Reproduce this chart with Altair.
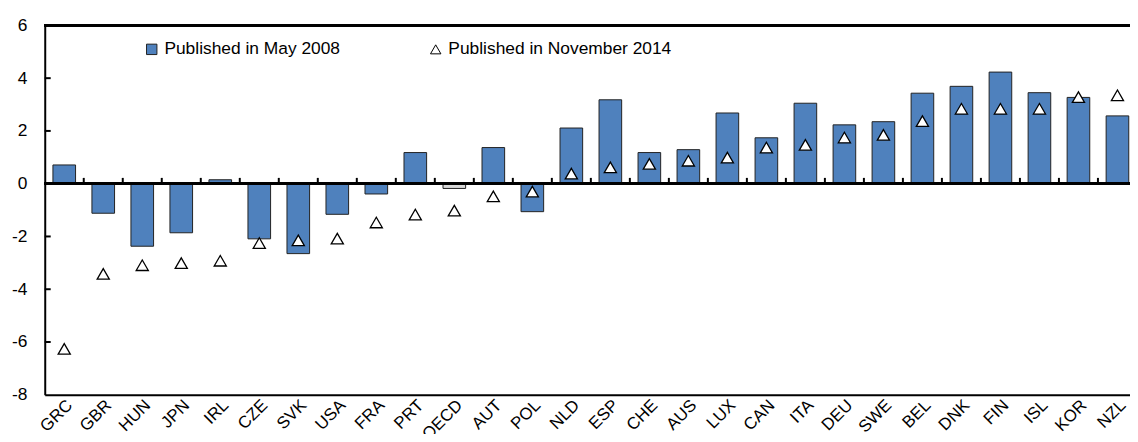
import altair as alt
import pandas as pd

countries = ["GRC", "GBR", "HUN", "JPN", "IRL", "CZE", "SVK", "USA", "FRA", "PRT",
             "OECD", "AUT", "POL", "NLD", "ESP", "CHE", "AUS", "LUX", "CAN", "ITA",
             "DEU", "SWE", "BEL", "DNK", "FIN", "ISL", "KOR", "NZL"]
may2008 = [0.71, -1.12, -2.37, -1.86, 0.15, -2.09, -2.65, -1.16, -0.39, 1.18,
           -0.18, 1.37, -1.06, 2.11, 3.18, 1.18, 1.29, 2.68, 1.74, 3.05,
           2.23, 2.35, 3.43, 3.69, 4.23, 3.45, 3.27, 2.57]
nov2014 = [-6.26, -3.42, -3.09, -3.01, -2.92, -2.25, -2.15, -2.08, -1.47, -1.17,
           -1.02, -0.48, -0.30, 0.38, 0.62, 0.75, 0.87, 0.99, 1.37, 1.47,
           1.75, 1.85, 2.37, 2.84, 2.84, 2.84, 3.28, 3.35]
series_names = ["Published in May 2008", "Published in November 2014"]
y_ticks = [-8, -6, -4, -2, 0, 2, 4, 6]

FONT = "Liberation Sans"
W, H = 1093, 372
STEP = 1100 / 28

bars_df = pd.DataFrame({"country": countries, "value": may2008, "series": series_names[0]})
pts_df = pd.DataFrame({"country": countries, "value": nov2014, "series": series_names[1]})
tick_df = pd.DataFrame({"country": countries[1:]})
ytick_df = pd.DataFrame({"v": y_ticks[1:-1]})

x_scale = alt.Scale(domain=countries, range=[0, 1100], paddingInner=0.42, paddingOuter=0.21)
y_scale = alt.Scale(domain=[-8, 6], nice=False)
fill_scale = alt.Scale(domain=series_names, range=["#4F81BD", "white"])
stroke_scale = alt.Scale(domain=series_names, range=["#222222", "black"])
shape_scale = alt.Scale(domain=series_names, range=["square", "triangle-up"])

legend = alt.Legend(
    title=None, orient="none", direction="horizontal", legendX=99, legendY=15,
    labelFont=FONT, labelFontSize=17.5, labelColor="black", symbolSize=110,
    symbolStrokeWidth=1, columnPadding=87,
    labelOffset=4, padding=0, symbolOpacity=1, labelLimit=0,
)

x_enc = alt.X("country:N", scale=x_scale, sort=countries,
              axis=alt.Axis(title=None, labelAngle=-45, labelFont=FONT, labelFontSize=17,
                            labelColor="black", ticks=False, domainColor="black",
                            domainWidth=2, labelPadding=2, labelOverlap=False))
y_enc = alt.Y("value:Q", scale=y_scale,
              axis=alt.Axis(title=None, values=y_ticks, labelFont=FONT, labelFontSize=17.5,
                            labelColor="black", ticks=False, domainColor="black",
                            domainWidth=2, labelPadding=18, grid=False,
                            labelExpr="'' + datum.value"))

bars = alt.Chart(bars_df).mark_bar(strokeWidth=1, opacity=1).encode(
    x=x_enc, y=y_enc,
    fill=alt.condition(alt.datum.country == "OECD", alt.value("#d9d9d9"),
                       alt.Fill("series:N", scale=fill_scale, legend=legend)),
    stroke=alt.Stroke("series:N", scale=stroke_scale, legend=legend),
)

zero = alt.Chart(bars_df).mark_rule(color="black", strokeWidth=2).encode(
    y=alt.datum(0), x=alt.value(0), x2=alt.value(W)
)
top = alt.Chart(bars_df).mark_rule(color="black", strokeWidth=2).encode(
    y=alt.datum(6), x=alt.value(0), x2=alt.value(W)
)
cat_ticks = alt.Chart(tick_df).mark_rule(color="black", strokeWidth=2, xOffset=-STEP / 2).encode(
    x=alt.X("country:N", scale=x_scale, sort=countries),
    y=alt.datum(0), y2=alt.datum(0.22),
)
y_tick_marks = alt.Chart(ytick_df).mark_rule(color="black", strokeWidth=2).encode(
    y=alt.Y("v:Q", scale=y_scale), x=alt.value(0), x2=alt.value(6)
)

points = alt.Chart(pts_df).mark_point(filled=True, strokeWidth=1.3,
                                      size=150, opacity=1).encode(
    x=alt.X("country:N", scale=x_scale, sort=countries),
    y=alt.Y("value:Q", scale=y_scale),
    fill=alt.Fill("series:N", scale=fill_scale, legend=legend),
    stroke=alt.Stroke("series:N", scale=stroke_scale, legend=legend),
    shape=alt.Shape("series:N", scale=shape_scale, legend=legend),
)

chart = alt.layer(bars, zero, top, cat_ticks, y_tick_marks, points).properties(
    width=W, height=H,
    autosize=alt.AutoSizeParams(type="none"),
    padding={"left": 37, "top": 16, "right": 0, "bottom": 38},
    background="white",
).configure_view(stroke=None)

chart.save("out.html", embed_options={"renderer": "svg", "actions": False})
